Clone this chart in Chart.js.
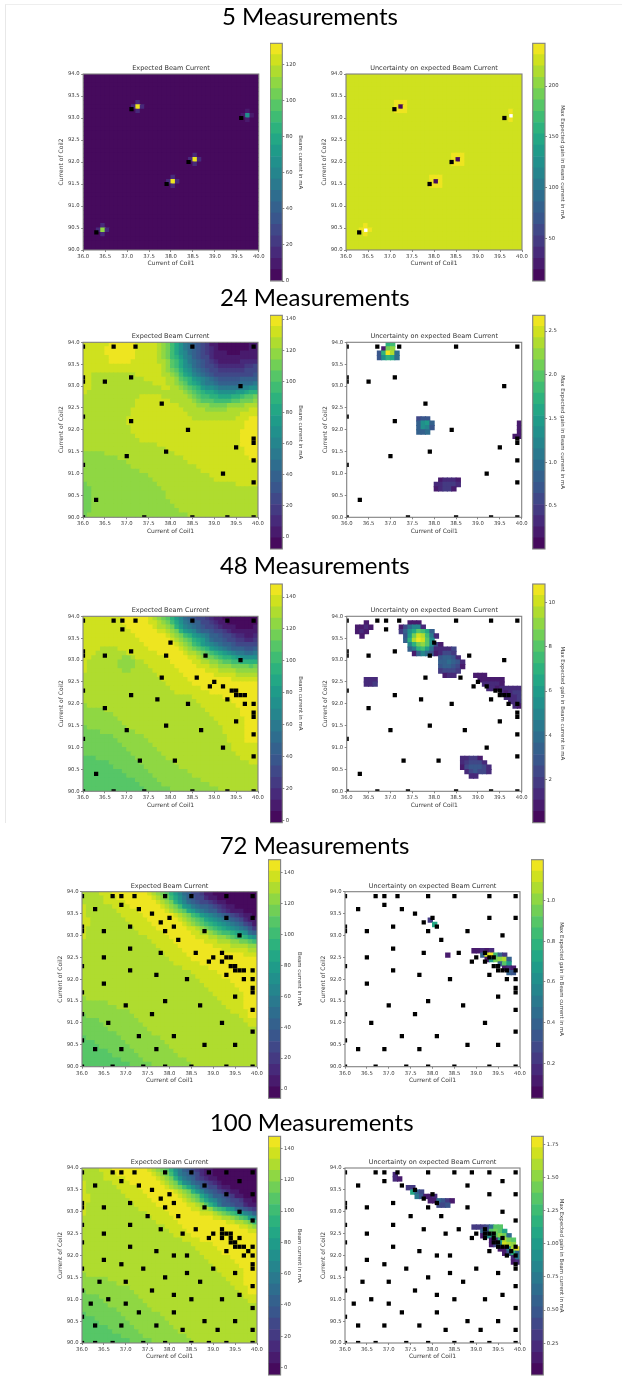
<!DOCTYPE html>
<html><head><meta charset="utf-8">
<script src="https://cdn.jsdelivr.net/npm/chart.js@4"></script>
<style>
html,body{margin:0;padding:0;background:#fff}
#page{position:relative;width:622px;height:1379px;overflow:hidden;background:#fff}
#frame{position:absolute;left:5px;top:4px;width:620px;height:818px;border-left:1px solid #e8e8e8;border-top:1px solid #eeeeee}
.head{position:absolute;font-family:Lato,sans-serif;font-size:24px;line-height:30px;color:#000;transform:translateX(-50%);white-space:nowrap;filter:blur(.3px)}
canvas{position:absolute;filter:blur(.45px)}
</style></head><body><div id="page"><div id="frame"></div></div>
<script>
// ---- axis + labels
const coil1Ticks=[36,36.5,37,37.5,38,38.5,39,39.5,40];
const coil2Ticks=[90,90.5,91,91.5,92,92.5,93,93.5,94];
const headings=['5 Measurements','24 Measurements','48 Measurements','72 Measurements','100 Measurements'];
const titleLeft='Expected Beam Current', titleRight='Uncertainty on expected Beam Current';
const coil1Label='Current of Coil1', coil2Label='Current of Coil2';
const barLabelLeft='Beam current in mA', barLabelRight='Max Expected gain in Beam current in mA';

// ---- colour bar ranges [min,max] and ticks
const range5L=[0,132],   ticks5L=[0,20,40,60,80,100,120];
const range5R=[8.5,242], ticks5R=[50,100,150,200];
const range24L=[-7.7,142.4], ticks24L=[0,20,40,60,80,100,120,140];
const range24R=[0.008,2.68], ticks24R=[0.5,1,1.5,2,2.5];
const range48L=[-1.5,148.2], ticks48L=[0,20,40,60,80,100,120,140];
const range48R=[0.06,10.83], ticks48R=[2,4,6,8,10];
const range72L=[-6,148.3], ticks72L=[0,20,40,60,80,100,120,140];
const range72R=[0.028,1.2], ticks72R=[0.2,0.4,0.6,0.8,1];
const range100L=[-4.7,147.7], ticks100L=[0,20,40,60,80,100,120,140];
const range100R=[0.011,1.81], ticks100R=[0.25,0.5,0.75,1,1.25,1.5,1.75];

// ---- measurement points [coil1, coil2]
const points5=[[36.3,90.4],[37.1,93.2],[39.6,93.0],[38.4,92.0],[37.9,91.5]];
const points24=[[36,93.9],[36.7,93.9],[37.2,93.9],[38.5,93.9],[39.9,93.9],[36,93.2],[36,93.1],[36.5,93.1],[37.1,93.2],[39.6,93],[37.8,92.6],[36,92.3],[37.1,92.2],[38.4,92],[39.9,91.8],[39.9,91.7],[39.5,91.6],[37.9,91.5],[37,91.4],[39.9,91.3],[36,91.2],[39.2,91],[39.9,90.8],[36.3,90.4],[36,90],[37.4,90],[38.5,90],[39.3,90],[39.9,90]];
const points48=[[36,93.9],[36.7,93.9],[36.9,93.9],[37.2,93.9],[38.5,93.9],[39.3,93.9],[39.9,93.9],[36.9,93.7],[38,93.4],[36,93.2],[36,93.1],[36.5,93.1],[37.1,93.2],[37.9,93.1],[38.8,93.1],[39.6,93],[37.8,92.6],[38.6,92.6],[39,92.5],[38.9,92.4],[39.2,92.4],[39.4,92.3],[39.5,92.3],[39.5,92.2],[39.6,92.2],[39.7,92.2],[36,92.3],[37.1,92.2],[37.7,92.1],[39.3,92.1],[38.4,92],[39.7,92],[39.9,92],[36.5,91.9],[39.9,91.8],[39.9,91.7],[39.5,91.6],[37.9,91.5],[37,91.4],[38.7,91.4],[39.9,91.3],[36,91.2],[39.2,91],[39.9,90.8],[37.3,90.7],[38.1,90.7],[36.3,90.4],[36,90],[36.7,90],[37.4,90],[38.5,90],[39.3,90],[39.9,90]];
const points72=[[36,93.9],[36.7,93.9],[36.9,93.9],[37.2,93.9],[37.9,93.9],[38.5,93.9],[39.3,93.9],[39.9,93.9],[36.9,93.7],[36.3,93.6],[37.3,93.6],[37.6,93.5],[38,93.4],[39.3,93.4],[39.9,93.4],[37.8,93.3],[36,93.2],[37.1,93.2],[38.1,93.2],[36,93.1],[36.5,93.1],[37.9,93.1],[38.8,93.1],[39.6,93],[38.2,92.9],[37.1,92.7],[37.8,92.6],[38.6,92.6],[39.2,92.6],[36.5,92.5],[39,92.5],[39.3,92.5],[39.4,92.5],[38.9,92.4],[39.2,92.4],[36,92.3],[39.4,92.3],[39.5,92.3],[37.1,92.2],[39.5,92.2],[39.6,92.2],[39.7,92.2],[39.9,92.2],[37.7,92.1],[39.3,92.1],[38.4,92],[39.7,92],[39.9,92],[36.5,91.9],[39.9,91.8],[36,91.7],[39.9,91.7],[39.5,91.6],[37.9,91.5],[37,91.4],[38.7,91.4],[39.9,91.3],[36,91.2],[37.6,91.2],[36.6,91],[39.2,91],[39.9,90.8],[37.3,90.7],[38.1,90.7],[36,90.6],[38.8,90.5],[39.5,90.5],[36.3,90.4],[36.9,90.4],[37.7,90.4],[36,90],[36.7,90],[37.4,90],[37.9,90],[38.5,90],[39.3,90],[39.9,90]];
const points100=[[36,93.9],[36.7,93.9],[36.9,93.9],[37.2,93.9],[37.9,93.9],[38.5,93.9],[38.9,93.9],[39.3,93.9],[39.9,93.9],[36.9,93.7],[39.6,93.7],[36.3,93.6],[37.3,93.6],[38.8,93.6],[37.6,93.5],[38,93.4],[39.3,93.4],[39.9,93.4],[37.8,93.3],[36,93.2],[37.1,93.2],[38.1,93.2],[36,93.1],[36.5,93.1],[37.9,93.1],[38.8,93.1],[39.6,93],[37.5,92.9],[38.2,92.9],[39.9,92.8],[36,92.7],[37.1,92.7],[37.8,92.6],[38.6,92.6],[39.2,92.6],[36.5,92.5],[38.3,92.5],[39,92.5],[39.2,92.5],[39.3,92.5],[39.4,92.5],[38.9,92.4],[39.2,92.4],[39.4,92.4],[39.6,92.4],[36,92.3],[39.4,92.3],[39.5,92.3],[37.1,92.2],[39.5,92.2],[39.6,92.2],[39.7,92.2],[39.9,92.2],[37.7,92.1],[39.3,92.1],[39.8,92.1],[38.1,92],[38.4,92],[39.7,92],[39.9,92],[36.5,91.9],[36.9,91.8],[39.9,91.8],[36,91.7],[37.4,91.7],[39,91.7],[39.9,91.7],[38.4,91.6],[39.5,91.6],[37.9,91.5],[36.4,91.4],[37,91.4],[38.7,91.4],[39.9,91.3],[36,91.2],[37.6,91.2],[38.1,91.1],[39.6,91.1],[36.6,91],[38.5,91],[39.2,91],[36.2,90.9],[37,90.9],[39.9,90.8],[37.3,90.7],[38.1,90.7],[36,90.6],[38.8,90.5],[39.5,90.5],[36.3,90.4],[36.9,90.4],[37.7,90.4],[38.3,90.3],[39.1,90.3],[39.9,90.3],[36,90],[36.3,90],[36.7,90],[37.4,90],[37.9,90],[38.5,90],[38.9,90],[39.3,90],[39.9,90]];

// ---- heat maps. Letter = colour band a (lowest) .. x (highest) of that panel's range.
// Dense grids: one string per row of cells from Coil2=94 downward; a short row repeats its last band.
const expected24=[
'wwwwwwxxxx xxwwwwwvut rpnlkihfec baaaaaaabb','wwwwwxxxxx xxwwwwwvut rpnlkihfed baaaaaaabb','wwwwwxxxxx xxwwwwwvut rpnmkihged cbbaaabbbc','wwwwwwxxxx xxwwwwwvut rqomljhgfd cbbbbbbccc',
'wwwwwwxxxx xwwwwwwvvu srpnlkihge dcccccdddd','wwwwwwwwww wwwwwwwwvu srpnmkjhgf eddddddeef','wwwwwwwwww wwwwwwwwvu tsqonlkihg feeeeeefff','wwvvvvvvvv vvwwwwwwvv utrpomlkih gfffffgggh',
'wwvvvvvvvv vvvvwwwwwv vusrqonmlk ihhhhhiiij','wwvvvvvvvv vvvvvvwwwv vutsqpomll kjjjjjkkkl','wwvvvvvvvv vvvvvvvvww vvutsrqonn mlllllmmnn','wvvvvvvvvv vvvvvvvvvv vvvutsrqpp onnnnoopqq',
'vvvvvvvvvv vvvwwwwwvv vvvvutsrrq qpppqqrsst','vvvvvvvvvv vvwwwwwwww vvvvvutsss rrrrsstttu','vvvvvvvvvv vvwwwwwwww wwvvvvuuut tttuuuuvvv','vvvvvvvvvv vwwwwwwwww wwwvvvvvuu uuuvvvvvww',
'vvvvvvvvvv vwwwwwwwww wwwwvvvvvv vvvvvvwwww','vvvvvvvvvv wwwwwwwwww wwwwwvvvvv vvvvvwwwxx','vvvvvvvvvv wwwwwwwwww wwwwwwwwww wwwwwwwxxx','vvvvvvvvvv vwwwwwwwww wwwwwwwwww wwwwwwwxxx',
'vvvvvvvvvv vwwwwwwwww wwwwwwwwww wwwwwwxxxx','vvvvvvvvvv vvwwwwwwww wwwwwwwwww wwwwwwxxxx','vvvvvvvvvv vvvwwwwwww wwwwwwwwww wwwwwwxxxx','vvvvvvvvvv vvvvvvvwww wwwwwwwwww wwwwwwxxxx',
'vvvvvvvvvv vvvvvvvvvw wwwwwwwwww wwwwwwwxxx','uuuuuvvvvv vvvvvvvvvv vwwwwwwwww wwwwwwwxxx','uuuuuuuuvv vvvvvvvvvv vvvwwwwwww wwwwwwwwxx','uuuuuuuuuu vvvvvvvvvv vvvvwwwwww w',
'uuuuuuuuuu uvvvvvvvvv vvvvvvwwww w','uuuuuuuuuu uuuvvvvvvv vvvvvvvwww w','uuuuuuuuuu uuuuuvvvvv vvvvvvvvvw w','uuuuuuuuuu uuuuuuvvvv vvvvvvvvvv w',
'tuuuuuuuuu uuuuuuuvvv vvvvvvvvvv vvvvvw','ttuuuuuuuu uuuuuuuuvv v','ttuuuuuuuu uuuuuuuuuv v','ttuuuuuuuu uuuuuuuuuv v',
'ttuuuuuuuu uuuuuuuuuu v','ttuuuuuuuu uuuuuuuuuu uv','ttuuuuuuuu uuuuuuuuuu uuv','tuuuuuuuuu uuuuuuuuuu uuuuv'];
const expected48=[
'wwwwwwwwwx xxxxxwvuts qomkihgfed cbaaaaaaaa','wwwwwwwwwx xxxxxwwvut rpnlkjigfe dcbaaaaaaa','wwwwwwwwww xxxxxxwvvu tqomlkihgf edcbbaaaab','wwwwwwwwww wxxxxxxwwv utqonmkjih gfedccbbbc',
'wwwwwwwwww wwxxxxxxxw vutrqonmlj ihgfeddccd','wwwwwwwwww wwwxxxxxxx wvutsqpomk jihgfeedde','wwwwwwwwww wwwwxxxxxx xwvutrqonm lkjihggffg','wwwwvvvvww wwwwwxxxxx xxwvutsrqo nmlkjiihhi',
'wwwvvvvvvv wwwwwwwxxx xxxwvvutsr qponmllkkl','wwvvvvvvvu uvwwwwwwwx xxxxwwvutt srqqponnnn','wvvvvvvvuu uuvvwwwwww xxxxxwwvvu utssrrqqqq','wvvvvvvvuu uuvvvwwwww wxxxxxwwwv vuuuttttst',
'wvvvvvvvvu uvvvvvwwww wwxxxxxxww wvvvvuuuuu','vvvvvvvvvv vvvvvvvwww wwwxxxxxxx wwwwwvvvvv','vvvvvvvvvv vvvvvvvvww wwwwxxxxxx xxxxwwwwww','vvvvvvvvvv vvvvvvvvvw wwwwwxxxxx x',
'vvvvvvvvvv vvvvvvvvvv wwwwwwwxxx x','vvvvvvvvvv vvvvvvvvvv vwwwwwwwwx x','vvvvvvvvvv vvvvvvvvvv vvvvvwwwww wwxxxxxxxx','vvvvvvvvvv vvvvvvvvvv vvvvvvwwww wwwwxxxxxx',
'uvvvvvvvvv vvvvvvvvvv vvvvvvvwww wwwwwxxxxx','uuuuuvvvvv vvvvvvvvvv vvvvvvvvww wwwwwwxxxx','uuuuuuuvvv vvvvvvvvvv vvvvvvvvvw wwwwwwxxxx','uuuuuuuuvv vvvvvvvvvv vvvvvvvvvv wwwwwwwxxx',
'uuuuuuuuuv vvvvvvvvvv vvvvvvvvvv vwwwwwwxxx','tuuuuuuuuu vvvvvvvvvv vvvvvvvvvv vvwwwwwxxx','ttttuuuuuu uuvvvvvvvv vvvvvvvvvv vvwwwwwxxx','tttttttuuu uuuuvvvvvv vvvvvvvvvv vvvwwwwxxx',
'ttttttttuu uuuuuvvvvv vvvvvvvvvv vvvwwwwxxx','tttttttttu uuuuuuvvvv vvvvvvvvvv vvvvwwwwww','tttttttttt uuuuuuuvvv vvvvvvvvvv vvvvwwwwww','tttttttttt tuuuuuuuvv vvvvvvvvvv vvvvvwwwww',
'sssttttttt ttuuuuuuuv vvvvvvvvvv vvvvvvwwww','sssssstttt tttuuuuuuu uvvvvvvvvv vvvvvvvvww','sssssssttt ttttuuuuuu uuv','ssssssssst tttttuuuuu uuuuv',
'ssssssssss ttttttuuuu uuuuuv','ssssssssss sstttttuuu uuuuuuuv','ssssssssss ssstttttuu uuuuuuuuuv','ssssssssss sssstttttt uuuuuuuuuu uv'];
const expected72=[
'vvvvwwwxxx xxxxxwvuts qomkigfecb a','vvvvvwwwxx xxxxxxwvut rpnljhgfdc ba','vvvvvwwwww xxxxxxxwvu tqomkjhgfe dcba','wvvvvvvwww wxxxxxxxwv utronlkjih gedcba',
'wvvvvvvvww wwwxxxxxxw vutspomlkj ifedcbbaaa','wvvvvvvvvw wwwwxxxxxx xwvutrqonm lkihfedcba','wwvvvvvvvv wwwwwxxxxx xxwvutsrpo nmlkihfdcb','wwvvvvvvvv vwwwwwxxxx xxxwvutsrq ponmlkigec',
'wvvvvvvvvv vvwwwwwxxx xxxxwwvuts rqponmlkhe','wvvvvvvvvv vvvwwwwwwx xxxxxwwvvu tsrrqponkj','wvvvvvvvvv vvvvvwwwww xxxxxxwwwv vuutsrrqon','vvvvvvvvvv vvvvvvwwww wxxxxxxxww wvvvuuttsr',
'vvvvvvvvvv vvvvvvvwww wwxxxxxxxx wwwwvvvvuu','vvvvvvvvvv vvvvvvvvww wwwxxxxxxx xxwwwwwwvv','vvvvvvvvvv vvvvvvvvvw wwwwxxxxxx xxxxxxxwww','vvvvvvvvvv vvvvvvvvvv wwwwwxxxxx x',
'vvvvvvvvvv vvvvvvvvvv vwwwwwwxxx x','vvvvvvvvvv vvvvvvvvvv vvvwwwwwwx x','vvvvvvvvvv vvvvvvvvvv vvvvvwwwww wxxxxxxxxx','vvvvvvvvvv vvvvvvvvvv vvvvvvwwww wwxxxxxxxx',
'vvvvvvvvvv vvvvvvvvvv vvvvvvvwww wwwwxxxxxx','vvvvvvvvvv vvvvvvvvvv vvvvvvvvww wwwwwxxxxx','vvvvvvvvvv vvvvvvvvvv vvvvvvvvvw wwwwwwxxxx','vvvvvvvvvv vvvvvvvvvv vvvvvvvvvv wwwwwwwxxx',
'uvvvvvvvvv vvvvvvvvvv vvvvvvvvvv vwwwwwwxxx','uuuuuuvvvv vvvvvvvvvv vvvvvvvvvv vvwwwwwxxx','uuuuuuuuvv vvvvvvvvvv vvvvvvvvvv vvvwwwwxxx','uuuuuuuuuu uvvvvvvvvv vvvvvvvvvv vvvvwwwwxx',
'tuuuuuuuuu uuvvvvvvvv vvvvvvvvvv vvvvvvwwxx','ttttuuuuuu uuuvvvvvvv vvvvvvvvvv vvvvvvvwww','tttttuuuuu uuuuvvvvvv vvvvvvvvvv vvvvvvvvww','ttttttuuuu uuuuuvvvvv v',
'ttttttttuu uuuuuuvvvv v','sttttttttu uuuuuuuuvv v','sssttttttt uuuuuuuuuv v','sssstttttt tuuuuuuuuu v',
'sssssstttt ttuuuuuuuu uv','sssssssttt tttuuuuuuu uuv','ssssssssst ttttuuuuuu uuuuv','ssssssssss stttttuuuu uuuuuv'];
const expected100=[
'vvvvwwwxxx xxxxxwvuts qnlihfedcb a','vvvvvwwwxx xxxxxxwvut rolkihfdcb a','vvvvvwwwww xxxxxxxwvu tqnlkigedc ba','wvvvvvvwww wxxxxxxxwv utqnmkihfe dba',
'wvvvvvvvww wwwxxxxxxw vutrpnljhg fdcba','wvvvvvvvvw wwwwxxxxxx xwvutqomkj hfedcba','wwvvvvvvvv wwwwwxxxxx xxwvutspnl jihfecbaaa','wwvvvvvvvv vwwwwwxxxx xxxwvutrpn mkihgfecba',
'wvvvvvvvvv vvwwwwwxxx xxxxwwvusq oljihgfdcc','wvvvvvvvvv vvvwwwwwwx xxxxxwwvvu srqonkjhfe','wvvvvvvvvv vvvvvwwwww xxxxxxxwww vutsrqomlj','vvvvvvvvvv vvvvvvwwww wxxxxxxxxx wwvvutsron',
'vvvvvvvvvv vvvvvvvwww wwxxxxxxxx xxxwwvvutr','vvvvvvvvvv vvvvvvvvvw wwwxxxxxxx xxxxxxwwvu','vvvvvvvvvv vvvvvvvvvv wwwwxxxxxx xxxxxxxxww','vvvvvvvvvv vvvvvvvvvv vwwwwxxxxx x',
'vvvvvvvvvv vvvvvvvvvv vvvwwwwxxx x','vvvvvvvvvv vvvvvvvvvv vvvvvwwwww x','vvvvvvvvvv vvvvvvvvvv vvvvvvwwww wxxxxxxxxx','vvvvvvvvvv vvvvvvvvvv vvvvvvvwww wwxxxxxxxx',
'vvvvvvvvvv vvvvvvvvvv vvvvvvvvww wwwwxxxxxx','vvvvvvvvvv vvvvvvvvvv vvvvvvvvvw wwwwwxxxxx','vvvvvvvvvv vvvvvvvvvv vvvvvvvvvv wwwwwwxxxx','vvvvvvvvvv vvvvvvvvvv vvvvvvvvvv vwwwwwwxxx',
'uvvvvvvvvv vvvvvvvvvv vvvvvvvvvv vvwwwwwxxx','uuuuuuvvvv vvvvvvvvvv vvvvvvvvvv vvvwwwwxxx','uuuuuuuuvv vvvvvvvvvv vvvvvvvvvv vvvvwwwxxx','uuuuuuuuuu uvvvvvvvvv vvvvvvvvvv vvvvvwwwxx',
'tuuuuuuuuu uuvvvvvvvv vvvvvvvvvv vvvvvvwwxx','ttttuuuuuu uuuvvvvvvv vvvvvvvvvv vvvvvvvwww','tttttuuuuu uuuuvvvvvv vvvvvvvvvv vvvvvvvvww','ttttttuuuu uuuuuvvvvv v',
'ttttttttuu uuuuuuvvvv v','sttttttttu uuuuuuuuvv v','sssttttttt uuuuuuuuuv v','sssstttttt tuuuuuuuuu v',
'sssssstttt ttuuuuuuuu uv','sssssssttt tttuuuuuuu uuv','ssssssssst ttttuuuuuu uuuuv','ssssssssss stttttuuuu uuuuuv'];
// Sparse grids: [row, first column, bands]; '.' leaves a cell blank.
const expected5=[[6,12,'d'],[7,11,'dxd'],[8,12,'d'],[8,37,'c'],[9,36,'cnc'],[10,37,'c'],[18,25,'d'],[19,24,'dxd'],[20,25,'d'],[23,20,'d'],[24,19,'dxd'],[25,20,'d'],[34,4,'d'],[35,3,'dud'],[36,4,'d']];
const uncertainty5=[[6,11,'xxx'],[7,11,'xax'],[8,11,'xxx'],
[18,24,'xxx'],[19,24,'xax'],[20,24,'xxx'],
[23,19,'xxx'],[24,19,'xax'],[25,19,'xxx'],
[8,37,'x'],[9,37,'.'],[10,37,'x'],
[34,4,'x'],[35,3,'x.x'],[36,4,'x']];
const uncertainty24=[[0,9,'qr'],[1,8,'ctu'],[2,7,'hqxvk'],[3,7,'hnqpk'],
[17,16,'ghh'],[18,16,'inoj'],[19,16,'jnmh'],[20,16,'iik'],
[18,39,'c'],[19,39,'c'],[20,39,'c'],[21,38,'bb'],
[31,21,'cdddc'],[32,20,'ddeeed'],[33,20,'cdeec']];
const uncertainty48=[[1,4,'b'],[2,2,'ccdb'],[3,2,'cdc'],[4,3,'b'],
[1,14,'ccb'],[2,12,'cfkmmd'],[3,12,'ejnpsrpj'],[4,13,'hotwvrld'],[5,13,'iqvxwsn'],[6,14,'mqtusnfc'],[7,14,'ilqrokdd'],[8,15,'cjmkh'],
[7,22,'ddf'],[8,20,'bdgfe'],[9,21,'hjjhd'],[10,21,'ijkihd'],[11,21,'hiihfb'],[12,21,'efgfe'],[13,22,'cdd'],
[14,4,'ddd'],[15,4,'dde'],
[13,29,'bbb'],[14,30,'cccccc'],[15,31,'ddddc'],[16,32,'ddcddddd'],[17,35,'dcdee'],[18,36,'ddde'],[19,37,'dde'],[20,38,'dc'],
[32,26,'ddeec'],[33,26,'deggfd'],[34,26,'cfhhhfd'],[35,27,'dghgfd'],[36,28,'dd']];
const uncertainty72=[[6,19,'e'],[7,20,'p'],[14,23,'b'],
[13,29,'ccdcd'],[14,31,'iwxrje'],[15,32,'botuvj'],[16,35,'jso'],[17,36,'cdc'],[18,37,'ih']];
const uncertainty100=[[1,11,'d'],[2,11,'dc'],[4,14,'ee'],[5,15,'pjg'],[6,16,'lhbcd'],[7,19,'cbkheb'],[8,21,'ggh'],
[13,29,'eeegkss'],[14,31,'ihstsp'],[15,31,'bnpsutk'],[16,33,'cbpvts'],[17,33,'cfnwvu'],[18,35,'bcmvxn'],[19,36,'bhqk'],[20,38,'dl'],[21,38,'cd']];

// ---- page layout (pixels)
const rows=[
 {head:[310,1],  top:74,   h:176,xL:83.2,xR:346,  bL:270,  bR:532.7,b0:43.3,  b1:281},
 {head:[314.8,282],top:342.3,h:175,xL:83,xR:346.7,bL:270,  bR:532.7,b0:315.3, b1:549},
 {head:[314.8,550],top:616.3,h:175,xL:83,xR:346.7,bL:270,  bR:532.7,b0:584,   b1:822.7},
 {head:[314.6,830],top:891.7,h:175,xL:82,xR:345,  bL:268.3,bR:531,  b0:859.7, b1:1098.3},
 {head:[311.7,1107],top:1168,h:175,xL:82,xR:345,  bL:268.3,bR:531,  b0:1136.3,b1:1375}
];
const panels=[
 [{sparse:expected5,fill:'a',range:range5L,ticks:ticks5L,dec:0},{sparse:uncertainty5,fill:'w',range:range5R,ticks:ticks5R,dec:0},points5],
 [{dense:expected24,range:range24L,ticks:ticks24L,dec:0},{sparse:uncertainty24,fill:'.',range:range24R,ticks:ticks24R,dec:1},points24],
 [{dense:expected48,range:range48L,ticks:ticks48L,dec:0},{sparse:uncertainty48,fill:'.',range:range48R,ticks:ticks48R,dec:0},points48],
 [{dense:expected72,range:range72L,ticks:ticks72L,dec:0},{sparse:uncertainty72,fill:'.',range:range72R,ticks:ticks72R,dec:1},points72],
 [{dense:expected100,range:range100L,ticks:ticks100L,dec:0},{sparse:uncertainty100,fill:'.',range:range100R,ticks:ticks100R,dec:2},points100]
];

// ---- style
const viridis=['#440154','#481568','#482677','#453781','#404788','#39568c','#33638d','#2d708e','#287d8e','#238a8d','#1f968b','#20a387','#29af7f','#3cbb75','#55c667','#73d055','#95d840','#b8de29','#dce319','#fde725'];
const BANDS=21, GRID=40;
function hex(c){return [1,3,5].map(i=>parseInt(c.substr(i,2),16));}
function cmap(t){const p=Math.min(.9999,Math.max(0,t))*(viridis.length-1),i=Math.floor(p),f=p-i,a=hex(viridis[i]),b=hex(viridis[i+1]);
 return 'rgb('+a.map((v,k)=>Math.round(v+(b[k]-v)*f)).join(',')+')';}
function bandColor(i){return cmap((i+.5)/BANDS);}
function letterBand(ch){const i=ch.charCodeAt(0)-97;return i>=10?i-3:Math.round(i*.7);}
Chart.defaults.font.family='"DejaVu Sans",sans-serif';
Chart.defaults.color='#3a3a3a';
Chart.defaults.animation=false;
const frame={id:'frame',afterDatasetsDraw(ch){const a=ch.chartArea,c=ch.ctx;c.save();c.strokeStyle='#808080';c.lineWidth=1.1;
 c.strokeRect(a.left,a.top,a.right-a.left,a.bottom-a.top);c.restore();}};
const page=document.getElementById('page');

function addCanvas(l,t,w,h){const c=document.createElement('canvas');c.width=w;c.height=h;c.style.left=l+'px';c.style.top=t+'px';c.style.width=w+'px';c.style.height=h+'px';page.appendChild(c);return c;}

function buildCells(p){
 const rowsOut=[];
 for(let r=0;r<GRID;r++){rowsOut.push(new Array(GRID).fill(p.fill||'.'));}
 if(p.dense){p.dense.forEach((s,r)=>{const t=s.replace(/ /g,'');for(let c=0;c<GRID;c++)rowsOut[r][c]=c<t.length?t[c]:t[t.length-1];});}
 if(p.sparse){p.sparse.forEach(([r,c0,s])=>{[...s].forEach((ch,k)=>{rowsOut[r][c0+k]=ch;});});}
 const [lo,hi]=p.range,out=[];
 rowsOut.forEach((row,r)=>row.forEach((ch,c)=>{if(ch==='.')return;
  const band=letterBand(ch);
  out.push({x:36+(c+.5)*.1,y:94-(r+.5)*.1,v:lo+(band+.5)*(hi-lo)/BANDS});}));
 return out;
}
function heat(x0,top,w,h,p,pts,title){
 const LEFT=25,PL=2,RIGHT=14,XH=17.3,TH=9.5,ABOVE=20;
 const cw=Math.round(LEFT+PL+w+RIGHT),ch=Math.round(ABOVE+h+XH+2);
 const cx=x0-LEFT-PL,cy=top-ABOVE;
 const cv=addCanvas(Math.floor(cx),Math.floor(cy),cw,ch);
 const dx=cx-Math.floor(cx),dy=cy-Math.floor(cy);
 const cells=buildCells(p),[lo,hi]=p.range;
 new Chart(cv,{type:'scatter',data:{datasets:[
  {data:pts.map(q=>({x:q[0],y:q[1]})),pointStyle:'rect',pointRadius:3,pointBackgroundColor:'#000',pointBorderWidth:0,order:0},
  {data:cells,parsing:false,pointStyle:'rect',pointRadius:3.8,pointBorderWidth:0,
   pointBackgroundColor:cells.map(c=>bandColor(Math.floor((c.v-lo)/(hi-lo)*BANDS))),order:1}
 ]},options:{responsive:false,devicePixelRatio:1,events:[],
  layout:{autoPadding:false,padding:{left:PL+dx,right:cw-(PL+dx)-LEFT-w,top:ABOVE+dy-TH,bottom:ch-(ABOVE+dy)-h-XH}},
  plugins:{legend:{display:false},tooltip:{enabled:false},
   title:{display:true,fullSize:false,text:title,color:'#333',font:{size:6.5,weight:'normal'},padding:{top:0,bottom:1.7}}},
  scales:{
   x:{type:'linear',min:36,max:40,afterFit:s=>{s.height=XH;},afterBuildTicks:s=>{s.ticks=coil1Ticks.map(v=>({value:v}));},
    border:{display:false},grid:{drawOnChartArea:false,drawTicks:true,tickLength:2,tickColor:'#555',tickWidth:.7},
    ticks:{font:{size:5.3},padding:1.5,maxRotation:0,autoSkip:false,callback:v=>v.toFixed(1)},
    title:{display:true,text:coil1Label,font:{size:6},padding:0}},
   y:{type:'linear',min:90,max:94,afterFit:s=>{s.width=LEFT;},afterBuildTicks:s=>{s.ticks=coil2Ticks.map(v=>({value:v}));},
    border:{display:false},grid:{drawOnChartArea:false,drawTicks:true,tickLength:2,tickColor:'#555',tickWidth:.7},
    ticks:{font:{size:5.3},padding:1.5,autoSkip:false,callback:v=>v.toFixed(1)},
    title:{display:true,text:coil2Label,font:{size:6},padding:0}}
  }},plugins:[frame]});
}
function colorbar(x0,y0,y1,p,label,axisW){
 const W=12.3,PAD=5;
 const cw=Math.round(W+axisW+3),ch=Math.round(y1-y0+2*PAD);
 const cx=Math.floor(x0),cy=Math.floor(y0-PAD),dx=x0-cx,dy=y0-PAD-cy;
 const cv=addCanvas(cx,cy,cw,ch);
 const [lo,hi]=p.range,step=(hi-lo)/BANDS;
 const ds=[];for(let i=0;i<BANDS;i++)ds.push({data:[[lo+i*step,lo+(i+1)*step]],backgroundColor:bandColor(i),borderWidth:0,barPercentage:1,categoryPercentage:1});
 new Chart(cv,{type:'bar',data:{labels:[''],datasets:ds},options:{responsive:false,devicePixelRatio:1,events:[],
  layout:{autoPadding:false,padding:{left:dx,right:cw-dx-W-axisW,top:PAD+dy,bottom:ch-(PAD+dy)-(y1-y0)}},
  plugins:{legend:{display:false},tooltip:{enabled:false}},
  scales:{
   x:{display:false,stacked:true},
   y:{position:'right',stacked:false,min:lo,max:hi,afterFit:s=>{s.width=axisW;},afterBuildTicks:s=>{s.ticks=p.ticks.map(v=>({value:v}));},
    border:{display:false},grid:{drawOnChartArea:false,drawTicks:true,tickLength:2,tickColor:'#555',tickWidth:.7},
    ticks:{font:{size:5.3},padding:1.5,autoSkip:false,callback:v=>v.toFixed(p.dec)},
    title:{display:true,text:label,font:{size:5.4},padding:0}}
  }},plugins:[frame]});
}
rows.forEach((g,i)=>{
 const d=document.createElement('div');d.className='head';d.textContent=headings[i];d.style.left=g.head[0]+'px';d.style.top=g.head[1]+'px';page.appendChild(d);
 const [L,R,pts]=panels[i];
 const wL=i===0?175.6:175,wR=i===0?176:175;
 heat(g.xL,g.top,wL,g.h,L,pts,titleLeft);
 heat(g.xR,g.top,wR,g.h,R,pts,titleRight);
 colorbar(g.bL,g.b0,g.b1,L,barLabelLeft,21.6);
 colorbar(g.bR,g.b0,g.b1,R,barLabelRight,21);
});
</script></body></html>
